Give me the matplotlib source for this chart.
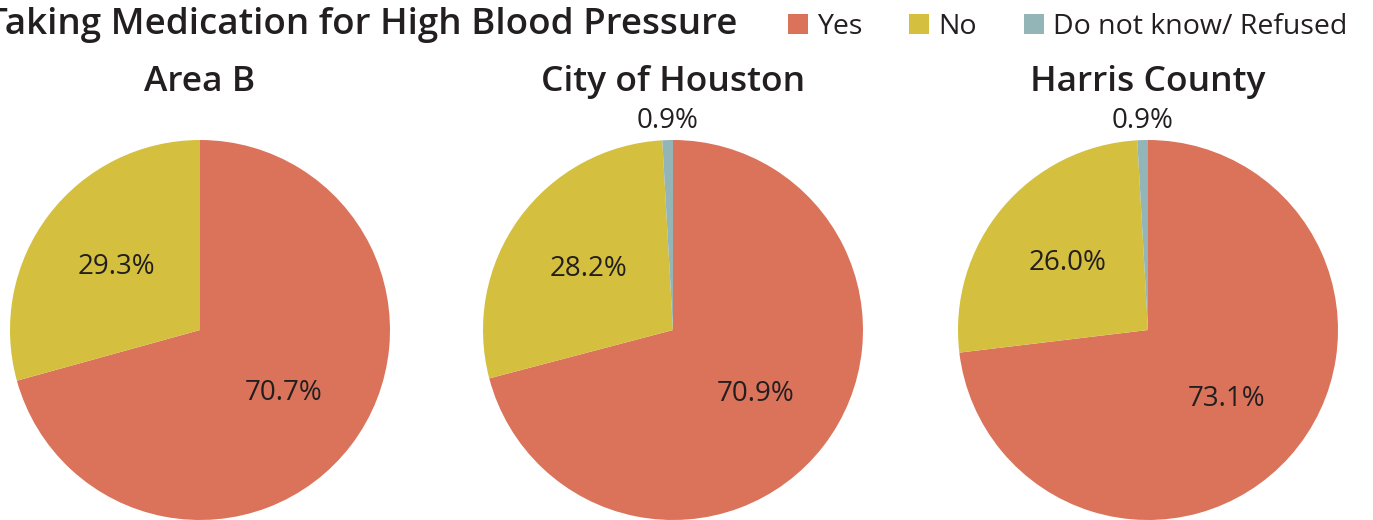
import matplotlib.pyplot as plt
from matplotlib.patches import Patch
import numpy as np

# data
areas = ["Area B", "City of Houston", "Harris County"]
categories = ["Yes", "No", "Do not know/ Refused"]
yes_vals = [70.7, 70.9, 73.1]
no_vals = [29.3, 28.2, 26.0]
dk_vals = [0.0, 0.9, 0.9]
colors = ["#DB735B", "#D4C03E", "#93B5B8"]

W, H = 1373, 520
fig = plt.figure(figsize=(W / 100, H / 100), dpi=100)
plt.rcParams['font.family'] = ['Open Sans', 'DejaVu Sans']

centers_x = [200, 673, 1148]
R = 190  # pie radius in px
cy = 330  # pie center from top

for i in range(3):
    cx = centers_x[i]
    ax = fig.add_axes([(cx - R) / W, (H - cy - R) / H, 2 * R / W, 2 * R / H])
    vals = [yes_vals[i], no_vals[i], dk_vals[i]]
    wedges, _ = ax.pie(vals, colors=colors, startangle=90, counterclock=False,
                       radius=1.0, wedgeprops=dict(linewidth=0))
    ax.set_xlim(-1, 1)
    ax.set_ylim(-1, 1)
    ax.set_aspect('equal')
    ax.axis('off')
    # percentage labels
    for w, v in zip(wedges, vals):
        if v == 0:
            continue
        ang = np.deg2rad((w.theta1 + w.theta2) / 2)
        d = 0.55 if v > 5 else 1.1
        ax.text(d * np.cos(ang), d * np.sin(ang), "%.1f%%" % v,
                ha='center', va='center', fontsize=20, color='#231F20',
                clip_on=False)
    fig.text(cx / W, (H - 91) / H, areas[i], ha='center', va='baseline',
             fontsize=25.5, fontweight='semibold', color='#231F20')

fig.text(737 / W, (H - 34) / H, "Taking Medication for High Blood Pressure",
         ha='right', va='baseline', fontsize=26.5, fontweight='semibold', color='#231F20')

handles = [Patch(facecolor=c, edgecolor='none') for c in colors]
fig.legend(handles, categories, loc='upper right', bbox_to_anchor=(1360 / W, 1.0),
           ncol=3, frameon=False, fontsize=20.5, handlelength=0.7, handleheight=0.7,
           handletextpad=0.32, columnspacing=1.65, borderaxespad=0.05,
           labelcolor='#231F20')

fig.savefig("out.png", dpi=100)
